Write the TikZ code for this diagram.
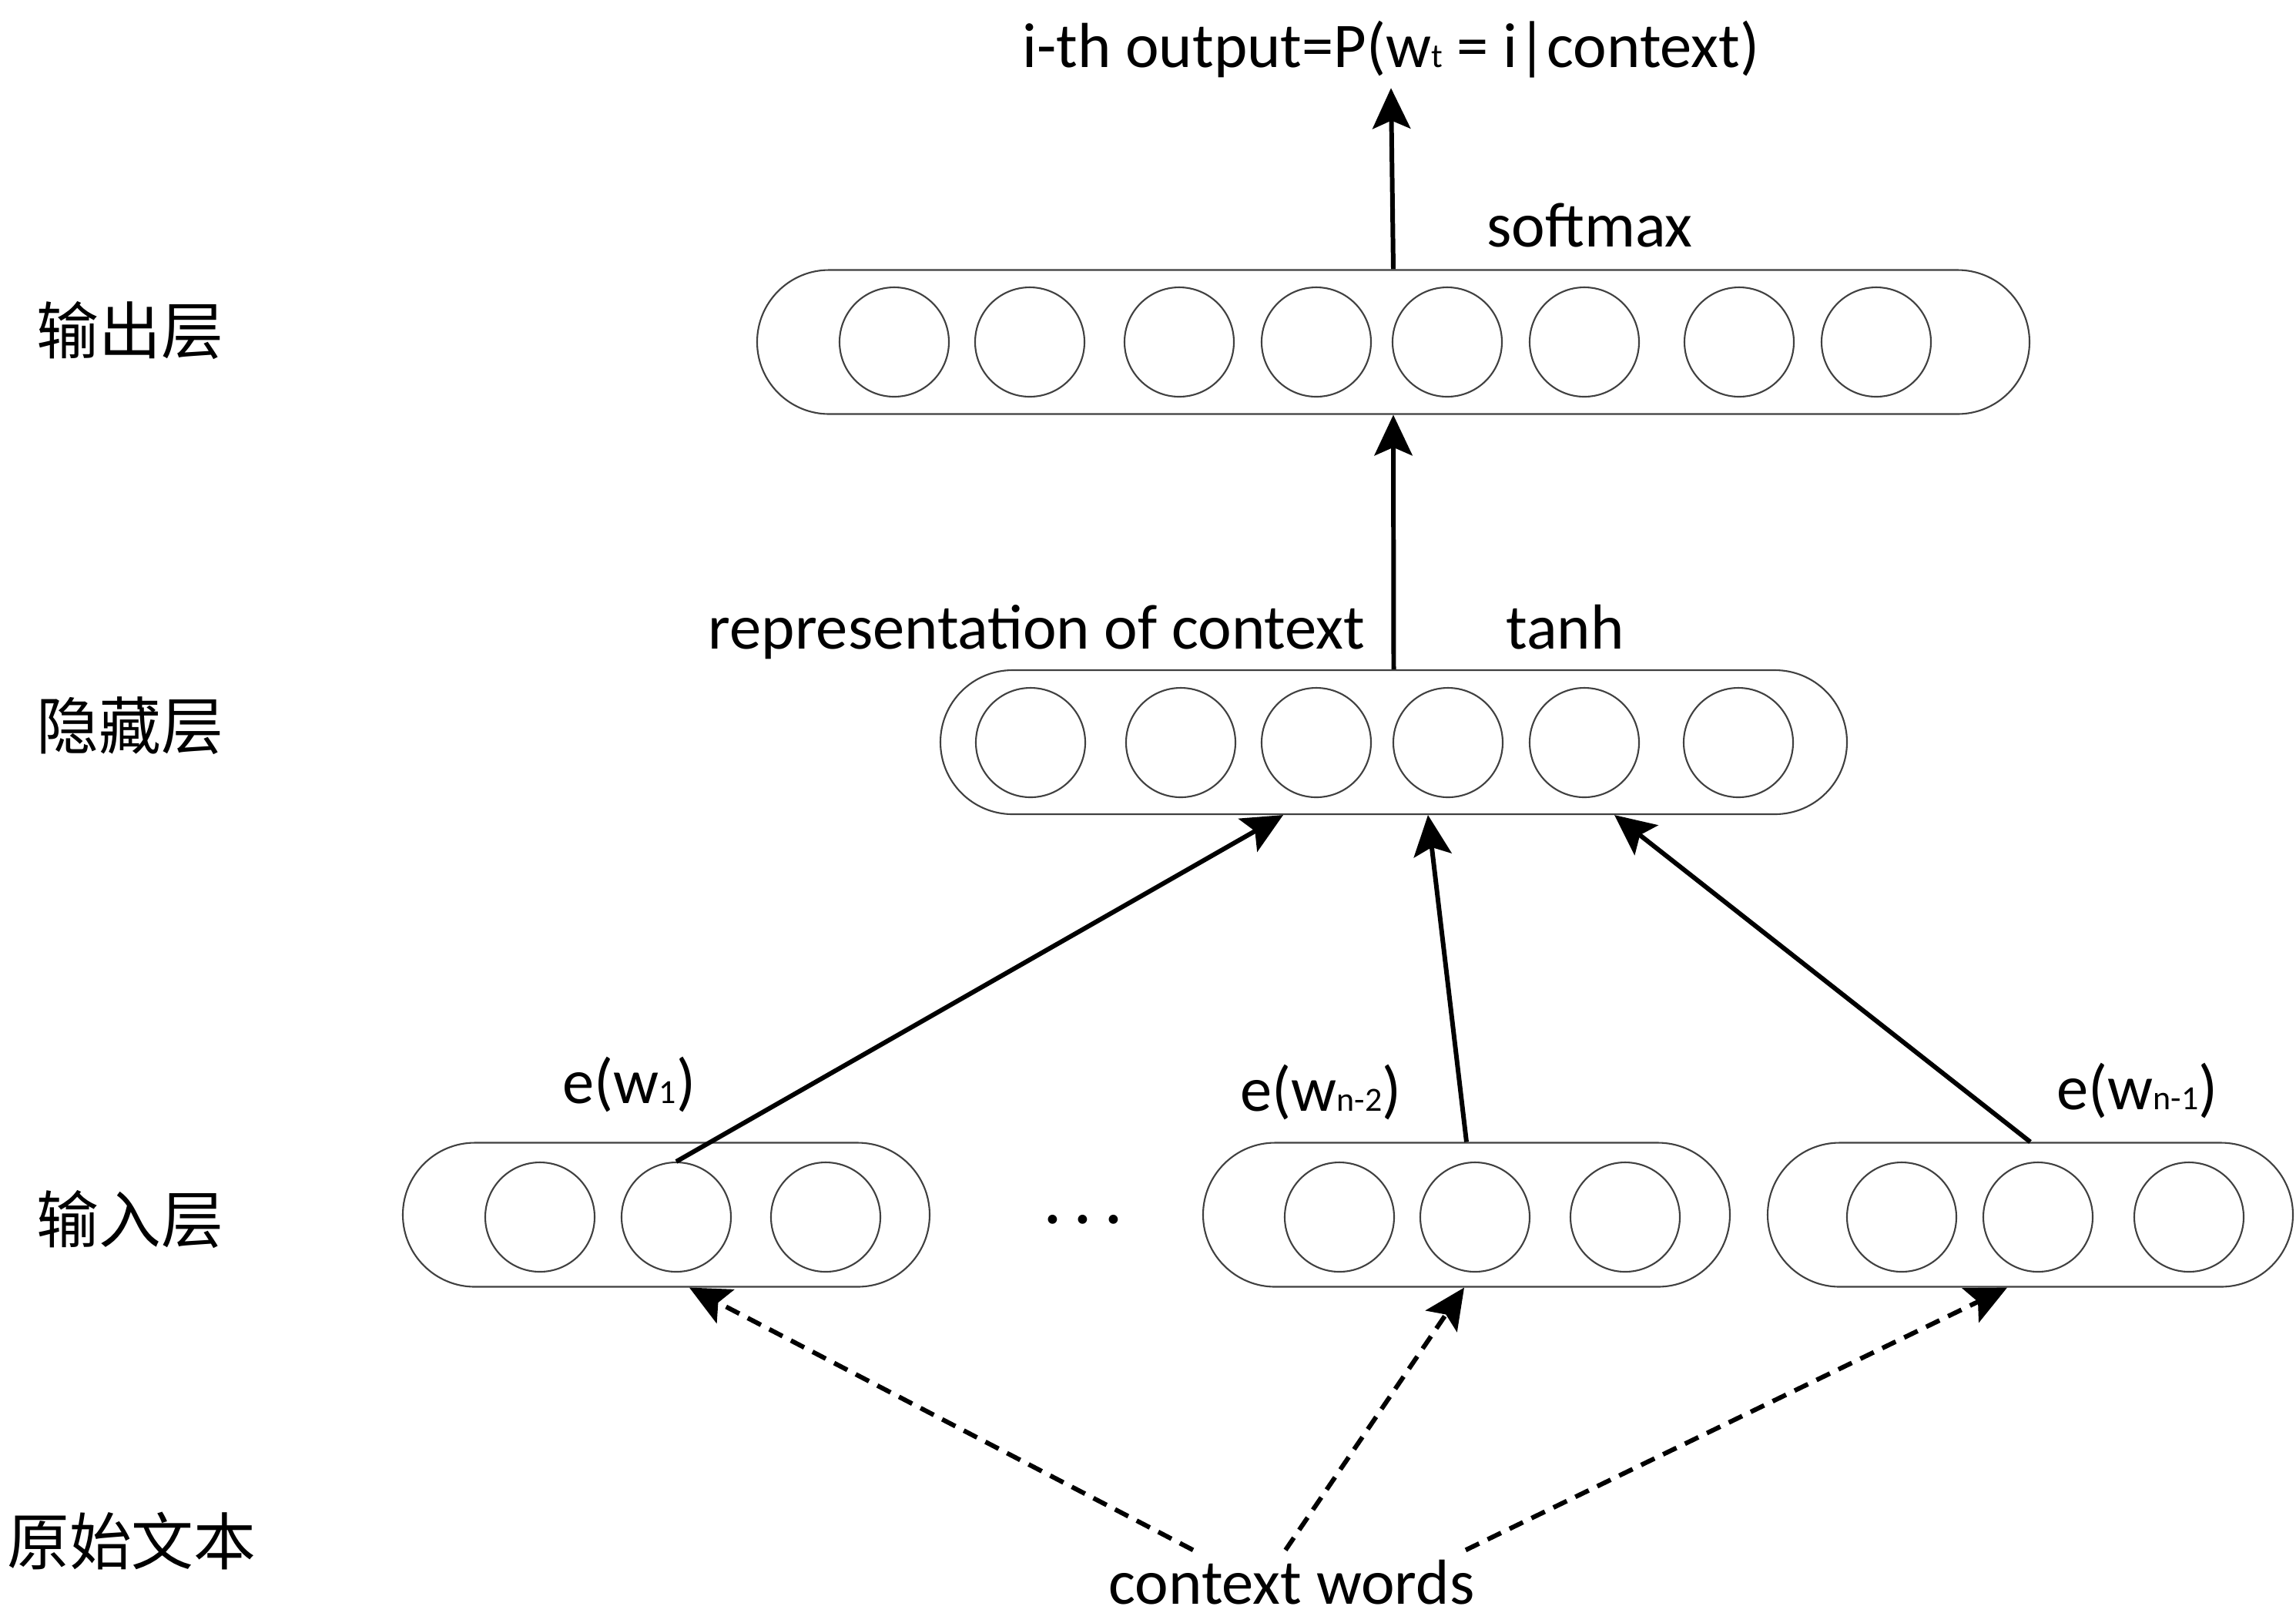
\documentclass[tikz,border=0pt]{standalone}
\usepackage{fontspec}
\setmainfont{Carlito}
\newfontfamily\cjk{Noto Sans CJK SC}
\usetikzlibrary{arrows.meta}
\definecolor{unitgray}{gray}{0.25}
\newcommand{\lowidx}[1]{{\fontsize{12.5}{12.5}\selectfont #1}}

\begin{document}
\begin{tikzpicture}
		\tikzstyle{every node}=[font=\fontsize{23.5}{28}\selectfont]
		\tikzstyle{layer}=[draw=unitgray,line width=0.6pt,rectangle,rounded corners=0.935cm,minimum height=1.87cm,inner sep=0pt]
		\tikzstyle{unit}=[draw=unitgray,line width=0.6pt,circle,minimum size=1.42cm,inner sep=0pt]
		\tikzstyle{feed}=[line width=1.7pt,-{Stealth[length=15pt,width=14pt,inset=3pt]}]
		\tikzstyle{lookup}=[feed,dash pattern=on 5.5pt off 3.5pt]
		\tikzstyle{side}=[font=\fontsize{23}{28}\selectfont\cjk]

		\useasboundingbox (0,0) rectangle (29.81,-21.06);

		\node[layer,minimum width=16.52cm] (out) at (18.09,-4.44) {};
		\foreach \x [count=\i] in {11.61,13.37,15.31,17.09,18.79,20.57,22.58,24.36}
			\node[unit] (out\i) at (\x,-4.44) {};

		\node[layer,minimum width=11.77cm] (hid) at (18.095,-9.635) {};
		\foreach \x [count=\i] in {13.38,15.33,17.09,18.80,20.57,22.57}
			\node[unit] (hid\i) at (\x,-9.64) {};

		\node[layer,minimum width=6.84cm] (inl) at (8.65,-15.77) {};
		\node[layer,minimum width=6.84cm] (inm) at (19.04,-15.77) {};
		\node[layer,minimum width=6.82cm] (inr) at (26.36,-15.77) {};
		\foreach \x [count=\i] in {7.01,8.78,10.72}
			\node[unit] (inl\i) at (\x,-15.80) {};
		\foreach \x [count=\i] in {17.39,19.15,21.10}
			\node[unit] (inm\i) at (\x,-15.80) {};
		\foreach \x [count=\i] in {24.69,26.46,28.42}
			\node[unit] (inr\i) at (\x,-15.80) {};
		\node[anchor=base] (gap) at (14.06,-16.06) {· · ·};

		\node[anchor=base,inner sep=0.13cm] (title) at (18.06,-0.87) {i-th output=P(w\lowidx{t} = i|context)};
		\node[anchor=base] (soft) at (20.64,-3.20) {softmax};
		\node[anchor=base] (repr) at (13.46,-8.42) {representation of context};
		\node[anchor=base] (tanh) at (20.32,-8.42) {tanh};
		\node[anchor=base] (ew1) at (8.17,-14.32) {e(w\lowidx{1})};
		\node[anchor=base] (ewn2) at (17.15,-14.42) {e(w\lowidx{n-2})};
		\node[anchor=base] (ewn1) at (27.75,-14.40) {e(w\lowidx{n-1})};
		\node[anchor=base] (ctx) at (16.77,-20.82) {context words};

		\node[side] (lout) at (1.69,-4.29) {输出层};
		\node[side] (lhid) at (1.69,-9.42) {隐藏层};
		\node[side] (lin) at (1.69,-15.83) {输入层};
		\node[side] (lraw) at (1.71,-20.00) {原始文本};

		\draw[feed] (out.north) -- (title.south);
		\draw[feed] (hid.north) -- (out.south);
		\draw[feed] (inl2.north) -- ([xshift=-1.435cm]hid.south);
		\draw[feed] (inm.north) -- ([xshift=0.445cm]hid.south);
		\draw[feed] (inr.north) -- ([xshift=2.865cm]hid.south);

		\draw[lookup] ([xshift=-1.28cm]ctx.north) -- ([xshift=0.30cm]inl.south);
		\draw[lookup] ([xshift=-0.08cm]ctx.north) -- ([xshift=-0.03cm]inm.south);
		\draw[lookup] ([xshift=2.26cm]ctx.north) -- ([xshift=-0.30cm]inr.south);
	\end{tikzpicture}
\end{document}
